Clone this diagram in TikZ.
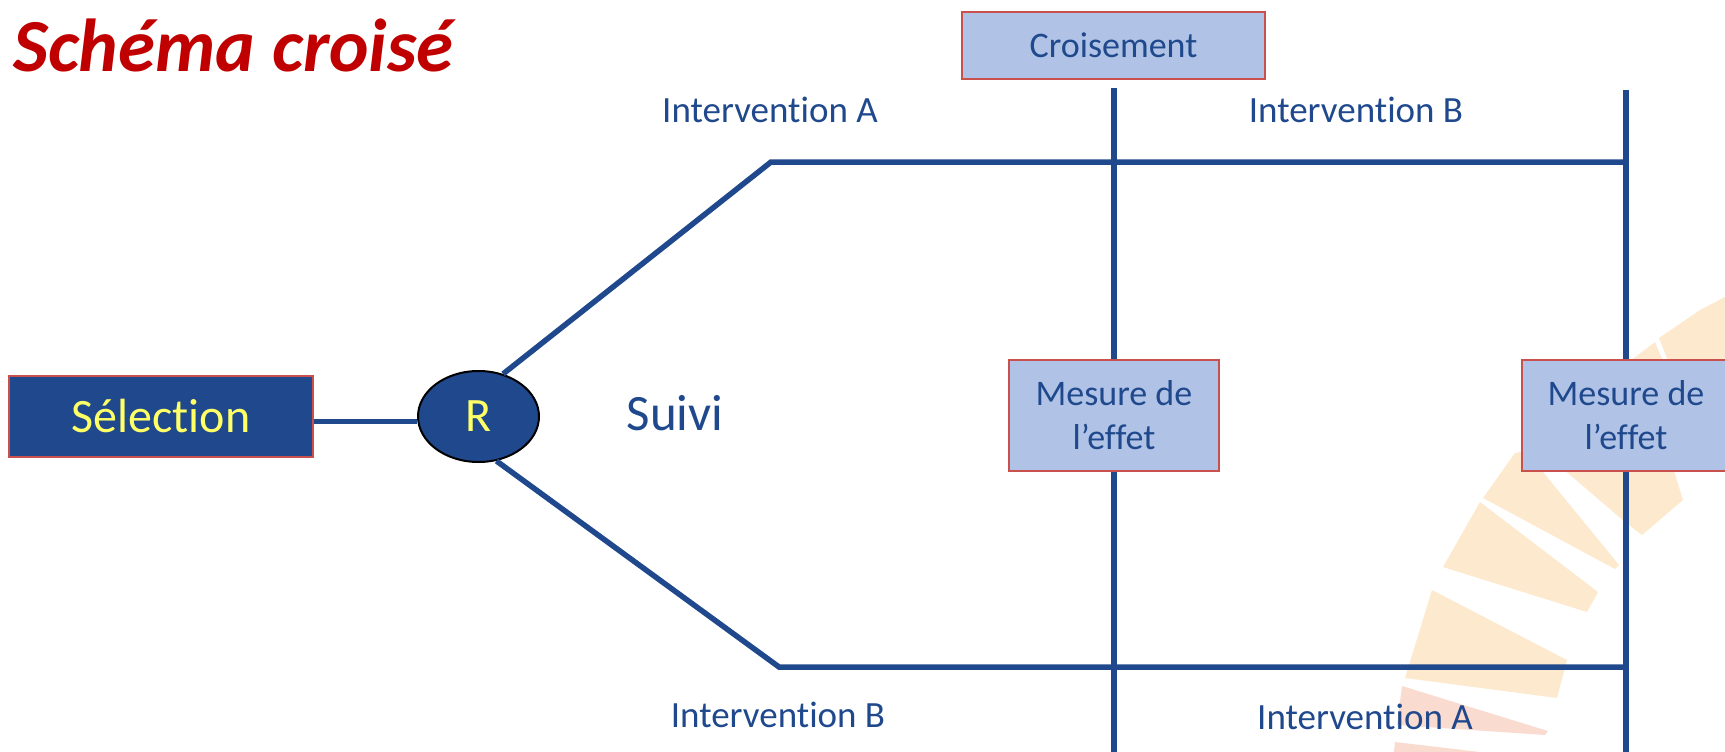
\documentclass[tikz,border=0pt]{standalone}
\usepackage{fontspec}
\setmainfont{Carlito}[Ligatures={NoCommon}]
\usetikzlibrary{shapes.geometric}
\definecolor{dblue}{HTML}{1F498C}
\definecolor{lblue}{HTML}{B0C3E6}
\definecolor{bred}{HTML}{C9504D}
\definecolor{ttl}{HTML}{C00000}
\definecolor{yel}{HTML}{FFFF66}
\definecolor{sunA}{HTML}{FDE9CE}
\definecolor{sunB}{HTML}{FADBCF}
\begin{document}
\begin{tikzpicture}[x=1pt,y=-1pt,
  conn/.style={draw=dblue,line width=5.5pt},
  lbl/.style={text=dblue,font=\fontsize{37}{44}\selectfont,inner sep=0,anchor=base},
  lbox/.style={draw=bred,line width=1.5pt,fill=lblue,text=dblue,inner sep=0,
    font=\fontsize{36}{44}\selectfont,align=center},
  ray/.style={fill=sunA,draw=none},
  rayp/.style={fill=sunB,draw=none}]
\useasboundingbox (0,0) rectangle (1725,752);
% watermark rays
\fill[ray] (1483,498) -- (1515,453) -- (1530,450) -- (1543,472) -- (1619,565) -- (1615,569) -- cycle;
\fill[ray] (1562,468) -- (1673,468) -- (1683,500) -- (1642,535) -- (1625,522) -- cycle;
\fill[ray] (1480,502) -- (1443,567) -- (1587,612) -- (1598,592) -- cycle;
\fill[ray] (1432,590) -- (1567,660) -- (1557,698) -- (1405,678) -- cycle;
\fill[rayp] (1402,686) -- (1548,731) -- (1545,735) -- (1397,725) -- cycle;
\fill[rayp] (1395,742) -- (1480,752) -- (1394,752) -- cycle;
\fill[ray] (1630,361) -- (1655,342) -- (1663,361) -- cycle;
\fill[ray] (1668,361) -- (1659,338) -- (1700,310) -- (1725,297) -- (1725,361) -- cycle;
% title
\node[anchor=base west,inner sep=0,text=ttl,font=\fontsize{75}{80}\selectfont\bfseries\itshape] (title) at (13,72) {Schéma croisé};
% nodes
\node[draw=bred,line width=1.5pt,fill=dblue,text=yel,minimum width=304pt,minimum height=81pt,inner sep=0,font=\fontsize{48}{52}\selectfont] (sel) at (161,416.5) {Sélection};
\node[ellipse,draw=black,line width=2pt,fill=dblue,text=yel,minimum width=121pt,minimum height=91pt,inner sep=0,font=\fontsize{48}{52}\selectfont] (R) at (478.5,416.5) {R};
\node[lbl,font=\fontsize{51}{56}\selectfont] (suivi) at (675,430) {Suivi};
\node[lbl] (ia1) at (770,122) {Intervention A};
\node[lbl] (ib1) at (1356,122) {Intervention B};
\node[lbl] (ib2) at (778,727) {Intervention B};
\node[lbl] (ia2) at (1365,729) {Intervention A};
% coordinates
\coordinate (ua) at (771,162);
\coordinate (ue) at (1626,162);
\coordinate (la) at (779,667);
\coordinate (le) at (1626,667);
\coordinate (v1t) at (1114,88);
\coordinate (v1b) at (1114,760);
\coordinate (v2t) at (1626,90);
\coordinate (v2b) at (1626,760);
% connectors
\draw[conn] ([yshift=-5pt]sel.east) -- ([yshift=-5pt]R.west);
\draw[conn] (R.60) -- (ua) -- (ue);
\draw[conn] (R.-68) -- (la) -- (le);
\draw[conn] (v1t) -- (v1b);
\draw[conn] (v2t) -- (v2b);
% boxes on top
\node[lbox,minimum width=303pt,minimum height=67pt] (crois) at (1113.5,45.5) {Croisement};
\node[lbox,minimum width=210pt,minimum height=111pt] (m1) at (1114,415.5) {Mesure de\\l’effet};
\node[lbox,minimum width=208pt,minimum height=111pt] (m2) at (1626,415.5) {Mesure de\\l’effet};
\end{tikzpicture}
\end{document}
